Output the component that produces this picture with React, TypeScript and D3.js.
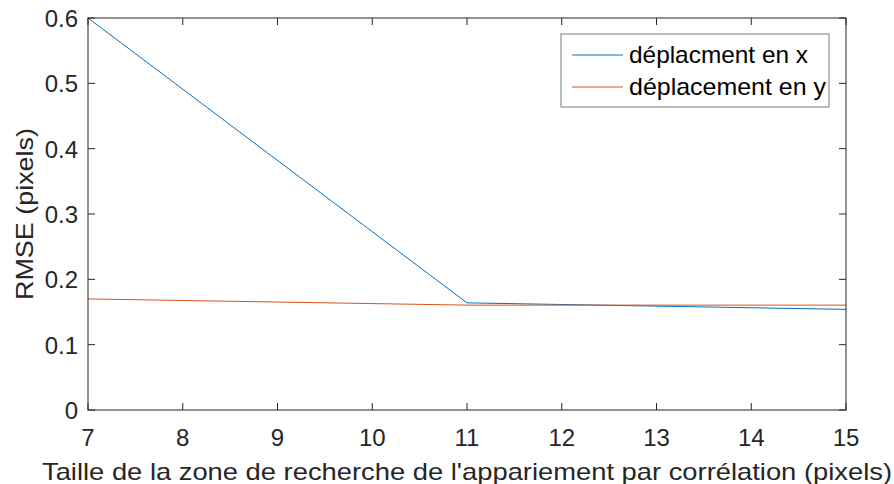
import React from "react";
import * as d3 from "d3";

const xValues = [7, 11, 15];
const seriesX = [0.6, 0.164, 0.154];
const seriesY = [0.17, 0.1605, 0.1605];
const seriesNames = ["déplacment en x", "déplacement en y"];
const xTicks = [7, 8, 9, 10, 11, 12, 13, 14, 15];
const yTicks = [0, 0.1, 0.2, 0.3, 0.4, 0.5, 0.6];
const xLabel = "Taille de la zone de recherche de l'appariement par corrélation (pixels)";
const yLabel = "RMSE (pixels)";

const W = 894, H = 484;
const L = 88, R = 846, T = 18, B = 410;
const font = "'Liberation Sans', Arial, Helvetica, sans-serif";
const ink = "#262626";
const colors = ["#0072BD", "#D95319"];
const legendLens = [179, 197];

export default function App() {
  const x = d3.scaleLinear().domain([7, 15]).range([L, R]);
  const y = d3.scaleLinear().domain([0, 0.6]).range([B, T]);
  const line = d3.line<[number, number]>().x(d => x(d[0])).y(d => y(d[1]));
  const data = [seriesX, seriesY].map(s => xValues.map((v, i) => [v, s[i]] as [number, number]));
  const tl = 7;
  return (
    <svg width={W} height={H} style={{ position: "absolute", left: 0, top: 0, background: "#fff" }} fontFamily={font}>
      <rect x={0} y={0} width={W} height={H} fill="#fff" />
      {data.map((d, i) => (
        <path key={i} d={line(d) || ""} fill="none" stroke={colors[i]} strokeWidth={1} />
      ))}
      <rect x={L} y={T} width={R - L} height={B - T} fill="none" stroke={ink} strokeWidth={1} />
      {xTicks.map(t => (
        <g key={"x" + t}>
          <line x1={x(t)} x2={x(t)} y1={B} y2={B - tl} stroke={ink} />
          <line x1={x(t)} x2={x(t)} y1={T} y2={T + tl} stroke={ink} />
          <text x={x(t)} y={B + 36} textAnchor="middle" fontSize={24} fill={ink}>{t}</text>
        </g>
      ))}
      {yTicks.map(t => (
        <g key={"y" + t}>
          <line x1={L} x2={L + tl} y1={y(t)} y2={y(t)} stroke={ink} />
          <line x1={R} x2={R - tl} y1={y(t)} y2={y(t)} stroke={ink} />
          <text x={L - 10} y={y(t) + 9} textAnchor="end" fontSize={24} fill={ink}>{t === 0 ? "0" : t.toFixed(1)}</text>
        </g>
      ))}
      <text x={42} y={480} fontSize={24} fill={ink} textLength={850} lengthAdjust="spacingAndGlyphs">{xLabel}</text>
      <text transform={`translate(33,300) rotate(-90)`} fontSize={24} fill={ink} textLength={172} lengthAdjust="spacingAndGlyphs">{yLabel}</text>
      <g>
        <rect x={561} y={34} width={268} height={73} fill="#fff" stroke="#7a7a7a" strokeWidth={1} />
        {seriesNames.map((n, i) => (
          <g key={n}>
            <line x1={572} x2={623} y1={55 + i * 32} y2={55 + i * 32} stroke={colors[i]} strokeWidth={1} />
            <text x={629} y={55 + i * 32 + 8} fontSize={24} fill="#000" textLength={legendLens[i]} lengthAdjust="spacingAndGlyphs">{n}</text>
          </g>
        ))}
      </g>
    </svg>
  );
}
